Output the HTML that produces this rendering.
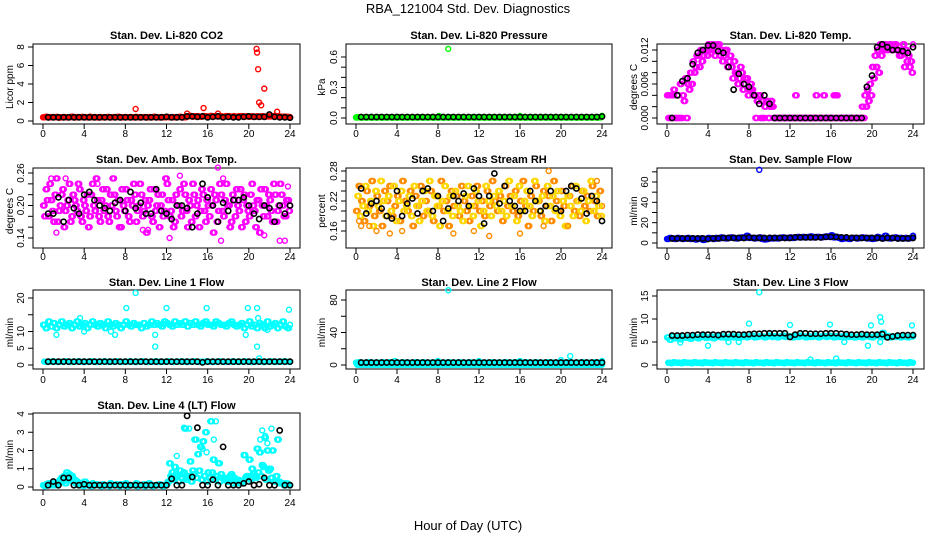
<!DOCTYPE html>
<html><head><meta charset="utf-8"><style>
body{margin:0;background:#fff}
svg{display:block;font-family:"Liberation Sans",Arial,sans-serif}
</style></head><body>
<svg id="chart" width="936" height="540" viewBox="0 0 936 540">
<rect width="936" height="540" fill="#fff"/>
<text x="468" y="13" font-size="13" text-anchor="middle">RBA_121004  Std. Dev. Diagnostics</text>
<text x="468" y="530" font-size="13" text-anchor="middle">Hour of Day (UTC)</text>
</svg>
<script>
// ---- data ----
const xTicks=[0,4,8,12,16,20,24];
const co2Base=[0.4,0.45,0.38,0.42,0.4,0.44,0.37,0.41,0.43,0.39,0.4,0.46,0.38,0.42,0.4,0.44,0.41,0.39,0.45,0.4,0.42,0.38,0.43,0.4,0.41,0.44,0.39,0.42,0.4,0.45,0.38,0.41,0.43,0.4,0.42,0.39,0.44,0.4,0.41,0.43,0.38,0.42,0.4,0.45,0.41,0.39,0.42,0.4,0.44,0.41,0.43,0.4,0.42,0.45,0.39,0.41,0.5,0.55,0.48,0.52,0.5,0.47,0.53,0.5,0.48,0.55,0.5,0.52,0.49,0.5,0.47,0.53,0.5,0.48,0.51,0.46,0.5,0.52,0.48,0.5,0.47,0.5,0.45,0.5,0.48,0.52,0.47,0.5,0.49,0.53,0.55,0.5,0.48,0.45,0.47,0.44,0.42];
const co2OutX=[9.0,15.6,14.0,17.0,20.75,20.8,20.9,21.0,21.2,21.5,22.75];
const co2OutY=[1.3,1.4,0.8,0.8,7.8,7.4,5.6,2.0,1.7,3.5,1.0];
const co2Black=[0.4,0.4,0.4,0.4,0.4,0.4,0.4,0.4,0.4,0.4,0.4,0.4,0.4,0.4,0.4,0.4,0.4,0.4,0.4,0.4,0.4,0.4,0.4,0.45,0.4,0.4,0.4,0.5,0.5,0.45,0.5,0.4,0.45,0.5,0.4,0.45,0.4,0.4,0.45,0.5,0.45,0.45,0.45,0.7,0.45,0.4,0.4,0.35];
const presBase=[0.005,0.008,0.004,0.006,0.005,0.007,0.004,0.006,0.005,0.008,0.004,0.006,0.005,0.007,0.004,0.006,0.005,0.008,0.004,0.006,0.005,0.007,0.004,0.006,0.005,0.008,0.004,0.006,0.005,0.007,0.004,0.006,0.005,0.008,0.004,0.006,0.005,0.007,0.004,0.006,0.005,0.008,0.004,0.006,0.005,0.007,0.004,0.006,0.005,0.008,0.004,0.006,0.005,0.007,0.004,0.006,0.005,0.008,0.004,0.006,0.005,0.007,0.004,0.006,0.005,0.008,0.004,0.006,0.005,0.007,0.004,0.006,0.005,0.008,0.004,0.006,0.005,0.007,0.004,0.006,0.005,0.008,0.004,0.006,0.005,0.007,0.004,0.006,0.005,0.008,0.004,0.006,0.005,0.007,0.004,0.006,0.02];
const presOutX=[0.1,9.0,8.1,16.0,24.0];
const presOutY=[0.01,0.68,0.02,0.02,0.02];
const presBlack=[0.01,0.01,0.01,0.01,0.01,0.01,0.01,0.01,0.01,0.01,0.01,0.01,0.01,0.01,0.01,0.01,0.01,0.01,0.01,0.01,0.01,0.01,0.01,0.01,0.01,0.01,0.01,0.01,0.01,0.01,0.01,0.01,0.01,0.01,0.01,0.01,0.01,0.01,0.01,0.01,0.01,0.01,0.01,0.01,0.01,0.01,0.01,0.015];
const tempA=[0.004,0.004,0.004,0,0.004,0.006,0.004,0.007,0.006,0.008,0.01,0.009,0.011,0.012,0.011,0.012,0.013,0.013,0.013,0.012,0.013,0.012,0.011,0.012,0.01,0.009,0.01,0.008,0.007,0.008,0.006,0.007,0.005,0.005,0.004,0.003,0.004,0.003,0.002,0.003,0.002,0.002,0,0,0,0,0,0,0,0,0.004,0,0,0,0,0,0,0,0.004,0,0,0.004,0,0,0,0.004,0.004,0,0,0,0,0,0,0,0,0,0.002,0.004,0.005,0.006,0.009,0.011,0.012,0.013,0.013,0.013,0.012,0.013,0.012,0.013,0.012,0.011,0.013,0.012,0.011,0.01,0.013];
const tempB=[0,0,0.005,0,0,0,0.003,0,0.005,0.006,0.008,0.011,0.009,0.01,0.012,0.011,0.012,0.012,0.011,0.013,0.011,0.01,0.012,0.009,0.011,0.007,0.008,0.006,0.009,0.005,0.007,0.004,0.006,0.004,0,0.004,0,0,0.003,0,0.003,0,0,0,0,0,0,0,0,0,0,0,0,0,0,0,0,0,0,0,0,0,0,0,0,0,0,0,0,0,0,0,0,0,0,0,0,0.002,0.003,0.004,0.007,0.009,0.008,0.011,0.012,0.012,0.013,0.012,0.013,0.012,0.011,0.012,0.009,0.01,0.009,0.008,0.012];
const tempBlack=[0,0.004,0.0065,0.007,0.0095,0.0115,0.012,0.0128,0.0128,0.0118,0.0115,0.009,0.005,0.0078,0.006,0.0055,0.004,0.0025,0.004,0.0025,0,0,0,0,0,0,0,0,0,0,0,0,0,0,0,0,0,0,0.0055,0.0075,0.0125,0.013,0.0125,0.012,0.012,0.0118,0.0115,0.0125];
const ambA=[0.2,0.23,0.18,0.21,0.17,0.25,0.19,0.22,0.16,0.2,0.24,0.18,0.21,0.19,0.23,0.17,0.2,0.22,0.18,0.24,0.19,0.21,0.17,0.23,0.2,0.18,0.22,0.25,0.19,0.21,0.16,0.2,0.23,0.18,0.21,0.24,0.17,0.2,0.22,0.19,0.15,0.21,0.18,0.23,0.2,0.16,0.22,0.19,0.24,0.18,0.21,0.17,0.2,0.23,0.19,0.22,0.16,0.2,0.24,0.18,0.21,0.19,0.22,0.17,0.2,0.23,0.15,0.21,0.19,0.22,0.18,0.24,0.2,0.17,0.21,0.23,0.19,0.16,0.22,0.2,0.18,0.24,0.19,0.21,0.15,0.2,0.23,0.18,0.21,0.17,0.22,0.19,0.24,0.2,0.18,0.21,0.2];
const ambB=[0.18,0.21,0.24,0.19,0.22,0.17,0.2,0.23,0.19,0.21,0.17,0.22,0.2,0.24,0.18,0.21,0.19,0.16,0.22,0.2,0.25,0.18,0.21,0.19,0.23,0.17,0.2,0.22,0.18,0.16,0.23,0.19,0.21,0.17,0.2,0.22,0.19,0.24,0.18,0.21,0.2,0.23,0.17,0.19,0.22,0.2,0.18,0.25,0.21,0.19,0.16,0.22,0.2,0.18,0.24,0.19,0.21,0.17,0.22,0.2,0.16,0.23,0.19,0.21,0.18,0.2,0.22,0.17,0.24,0.19,0.21,0.2,0.16,0.22,0.18,0.2,0.23,0.21,0.17,0.19,0.22,0.2,0.16,0.21,0.23,0.18,0.2,0.22,0.19,0.24,0.17,0.2,0.22,0.18,0.21,0.19,0.2];
const ambOutX=[0.8,1.3,2.2,5.3,9.7,10.2,12.3,13.3,14.5,17.0,17.3,17.5,21.5,23.0,23.5,23.8];
const ambOutY=[0.25,0.15,0.25,0.24,0.155,0.155,0.14,0.255,0.24,0.27,0.135,0.25,0.145,0.135,0.135,0.235];
const ambBlack=[0.185,0.185,0.215,0.17,0.21,0.195,0.185,0.22,0.225,0.21,0.2,0.195,0.19,0.205,0.21,0.19,0.225,0.195,0.205,0.185,0.185,0.23,0.19,0.185,0.175,0.2,0.2,0.195,0.16,0.185,0.24,0.215,0.2,0.17,0.205,0.19,0.21,0.21,0.215,0.2,0.185,0.175,0.2,0.195,0.17,0.2,0.185,0.2];
const rhA=[0.2,0.25,0.22,0.18,0.24,0.21,0.26,0.19,0.23,0.2,0.17,0.24,0.22,0.25,0.19,0.21,0.23,0.18,0.26,0.22,0.2,0.24,0.17,0.23,0.21,0.25,0.19,0.22,0.2,0.24,0.18,0.23,0.21,0.26,0.2,0.22,0.17,0.24,0.21,0.23,0.19,0.25,0.22,0.2,0.18,0.23,0.21,0.25,0.2,0.22,0.19,0.24,0.21,0.26,0.22,0.2,0.23,0.18,0.25,0.21,0.23,0.2,0.24,0.19,0.22,0.26,0.21,0.17,0.23,0.2,0.25,0.22,0.19,0.24,0.21,0.23,0.18,0.26,0.22,0.2,0.24,0.21,0.17,0.23,0.25,0.2,0.22,0.19,0.24,0.21,0.23,0.2,0.25,0.22,0.19,0.24,0.21];
const rhB=[0.23,0.19,0.21,0.25,0.2,0.22,0.17,0.24,0.21,0.26,0.22,0.19,0.23,0.2,0.25,0.18,0.22,0.24,0.2,0.21,0.23,0.19,0.25,0.21,0.18,0.22,0.24,0.2,0.26,0.19,0.23,0.21,0.17,0.22,0.25,0.2,0.23,0.19,0.24,0.21,0.2,0.18,0.23,0.25,0.21,0.19,0.24,0.22,0.17,0.2,0.25,0.22,0.19,0.23,0.21,0.24,0.2,0.22,0.19,0.26,0.21,0.23,0.18,0.25,0.2,0.22,0.24,0.21,0.19,0.26,0.22,0.2,0.23,0.18,0.25,0.21,0.23,0.2,0.24,0.19,0.22,0.17,0.23,0.21,0.19,0.25,0.22,0.2,0.24,0.18,0.22,0.26,0.2,0.23,0.21,0.19,0.22];
const rhOutX=[0.3,0.5,1.3,2.0,3.3,4.5,9.5,11.5,13.0,16.0,18.3,18.8,20.7,23.5];
const rhOutY=[0.18,0.17,0.17,0.16,0.155,0.16,0.155,0.16,0.15,0.155,0.17,0.28,0.17,0.26];
const rhBlack=[0.245,0.195,0.215,0.22,0.205,0.19,0.185,0.24,0.19,0.215,0.225,0.195,0.24,0.245,0.2,0.23,0.18,0.205,0.23,0.22,0.235,0.21,0.245,0.23,0.175,0.23,0.275,0.215,0.25,0.22,0.21,0.2,0.2,0.24,0.22,0.2,0.21,0.24,0.205,0.2,0.24,0.25,0.245,0.225,0.195,0.23,0.22,0.18];
const flowBase=[4,5,4.5,4,5,4.5,4,4.5,5,4,4.5,3.5,4,4.5,3,4,5,4.5,4,5,4.5,5.5,5,4.5,5,5.5,5,4.5,5,5.5,5,7,5,5,4.5,5,5.5,4,3.5,4,5,4.5,5,4.5,5,5.5,5,5,5.5,5,5.5,6,5.5,6,5.5,6,6.5,5.5,6,6,5.5,6,6.5,6,7.5,5.5,6,5,4,5,4.5,4,5,5,4.5,5,5.5,5,4.5,5,4,4.5,6,5,4.5,7,5,4.5,5,5.5,4.5,5,4.5,5,4.5,5,7];
const flowOutX=[9.0];
const flowOutY=[72];
const flowBlack=[4.5,4.5,4.5,4.5,4.5,4.5,4.5,4,4.5,4.5,5,5,5,5,5,5.5,5,5,5,5,5,5,5,5,5.5,5.5,5.5,5.5,5.5,5.5,6,6,6,5.5,5.5,5,5,5,5,5,5,4.5,5,5,4.5,4.5,4.5,5];
const l1A=[12,11,13,11.5,12.5,11,12,13,11.5,12,12.5,11,12,13,11.5,12,12.5,11,12,13,12,11.5,12.5,12,11,13,12,11.5,12.5,12,11,12,13,12,11.5,12.5,12,12,11,12.5,11.5,12,13,12,12.5,12,11.5,13,12.5,12,11.5,13,12,12.5,12,13,11.5,12.5,12,13,12,11.5,12.5,13,12,12,11.5,13,12.5,12,12,11.5,12.5,13,12,11.5,12,12.5,11,12,13,11.5,12,11,12.5,12,11,13,11.5,12,12.5,11,12,13,11.5,11,12];
const l1B=[1,0.9,1,1.1,1,0.9,1,1,1.1,1,0.9,1,1,1.1,1,0.9,1,1,1.1,1,0.9,1,1,1.1,1,0.9,1,1,1.1,1,0.9,1,1,1.1,1,0.9,1,1,1.1,1,0.9,1,1,1.1,1,0.9,1,1,1.1,1,0.9,1,1,1.1,1,0.9,1,1,1.1,1,0.9,1,1,1.1,1,0.9,1,1,1.1,1,0.9,1,1,1.1,1,0.9,1,1,1.1,1,0.9,1,1,1.1,1,0.9,1,1,1.1,1,0.9,1,1,1.1,1,0.9,1];
const l1OutX=[1.3,3.6,4.0,6.6,7.0,8.1,9.0,10.9,10.9,12.0,15.9,19.7,19.9,20.8,20.9,20.8,21.0,23.9,21.8];
const l1OutY=[9,14,10,10,9,17,21.5,5.5,9,17,17,9,17,17,14,5.5,2,16.5,10.5];
const l1Black=[1,1,1,1,1,1,1,1,1,1,1,1,1,1,1,1,1,1,1,1,1,1,1,1,1,1,1,1,1,1,0.8,1,1,1,1,1,1,1,1,1,1,1,1,1,1,1,1,1];
const l2A=[3,3.5,3,2.5,3,3.5,3,3,2.5,3,3.5,3,3,3.5,3,2.5,3,3,3.5,3,3,2.5,3,3.5,3,3,3.5,3,2.5,3,3,3.5,3,3,2.5,3,3.5,3,3,3,3.5,3,2.5,3,3.5,3,3,3,3.5,3,2.5,3,3,3.5,3,3,2.5,3,3.5,3,3,3,3.5,3,2.5,3,3.5,3,3,3,3.5,3,2.5,3,3,3.5,3,3,2.5,3,3.5,3,3,3.5,3,2.5,3,3,3.5,3,3,2.5,3,3.5,3,3,3.5];
const l2B=[0.3,0.2,0.4,0.3,0.2,0.3,0.4,0.3,0.2,0.3,0.3,0.2,0.4,0.3,0.2,0.3,0.4,0.3,0.2,0.3,0.3,0.2,0.4,0.3,0.2,0.3,0.4,0.3,0.2,0.3,0.3,0.2,0.4,0.3,0.2,0.3,0.4,0.3,0.2,0.3,0.3,0.2,0.4,0.3,0.2,0.3,0.4,0.3,0.2,0.3,0.3,0.2,0.4,0.3,0.2,0.3,0.4,0.3,0.2,0.3,0.3,0.2,0.4,0.3,0.2,0.3,0.4,0.3,0.2,0.3,0.3,0.2,0.4,0.3,0.2,0.3,0.4,0.3,0.2,0.3,0.3,0.2,0.4,0.3,0.2,0.3,0.4,0.3,0.2,0.3,0.3,0.2,0.4,0.3,0.2,0.3,0.4];
const l2OutX=[9.0,20.9,8.0,12.0,16.0,24.0,3.8,20.0];
const l2OutY=[92,11,5,5,5,5,5,6];
const l2Black=[3,3,3,3,3,3,3,3,3,3,3,3,3,3,3,3,3,3,3,3,3,3,3,3,3,3,3,3,3,3,3,3,3,3,3,3,3,3,3,3,3,3,3,3,3,3,3,3];
const l3A=[6,5.5,6.2,5.8,6,5.6,6.3,5.9,6,5.7,6.2,6,5.8,6.1,6.3,5.9,6,6.2,5.8,6.1,6.4,6,6.2,5.9,6.1,6.3,6,6.2,5.9,6.1,6.3,6,6.2,6.4,6,6.1,6.3,6.2,6,6.2,6.4,6.1,6.3,6,6.2,6.4,6.1,6.3,6.2,6,6.3,6.1,6.4,6.2,6,6.3,6.1,6.2,6.4,6,6.2,6.3,6.1,6.4,6.2,6,6.3,6.1,6.2,6,6.3,6.1,6.2,6,6.1,6.3,6,6.2,6.4,6.1,6,6.3,6.5,6.2,7,6.1,6.3,6,6.2,6.1,6.3,6,6.2,6.1,6,6.3,6.2];
const l3B=[0.5,0.4,0.6,0.5,0.5,0.4,0.6,0.5,0.5,0.4,0.6,0.5,0.5,0.4,0.6,0.5,0.5,0.4,0.6,0.5,0.5,0.4,0.6,0.5,0.5,0.4,0.6,0.5,0.5,0.4,0.6,0.5,0.5,0.4,0.6,0.5,0.5,0.4,0.6,0.5,0.5,0.4,0.6,0.5,0.5,0.4,0.6,0.5,0.5,0.4,0.6,0.5,0.5,0.4,0.6,0.5,0.5,0.4,0.6,0.5,0.5,0.4,0.6,0.5,0.5,0.4,0.6,0.5,0.5,0.4,0.6,0.5,0.5,0.4,0.6,0.5,0.5,0.4,0.6,0.5,0.5,0.4,0.6,0.5,0.5,0.4,0.6,0.5,0.5,0.4,0.6,0.5,0.5,0.4,0.6,0.5,0.5];
const l3OutX=[9.0,8.0,12.0,15.9,19.9,20.8,20.9,23.9,4.0,1.3,6.0,7.0,19.6,17.3,14.0,16.5,20.8];
const l3OutY=[15.8,9,8.7,8.8,8.6,10.4,9.4,8.6,4.2,4.9,5,5,4.2,5,1.2,1.4,5];
const l3Black=[6.4,6.4,6.4,6.5,6.5,6.6,6.6,6.6,6.6,6.5,6.7,6.7,6.7,6.6,6.6,6.7,6.8,6.8,6.9,6.9,6.9,6.9,6.9,6.1,6.6,6.9,6.9,6.8,6.8,6.8,6.9,6.9,6.9,6.8,6.7,6.6,6.6,6.7,6.6,6.6,6.6,6.7,6,6.2,6.4,6.5,6.5,6.5];
const l4A=[0.1,0.15,0.2,0.1,0.1,0.15,0.3,0.5,0.6,0.8,0.7,0.6,0.4,0.3,0.2,0.2,0.3,0.1,0.1,0.2,0.1,0.1,0.1,0.15,0.1,0.1,0.2,0.1,0.1,0.1,0.15,0.1,0.2,0.1,0.1,0.1,0.2,0.1,0.1,0.15,0.1,0.2,0.1,0.1,0.1,0.15,0.1,0.1,0.2,1.3,0.8,1.1,0.6,0.9,0.7,3.2,0.5,1.4,0.9,2.6,1.8,2.2,2.5,3.0,0.8,3.6,1.5,0.6,1.3,0.7,0.5,0.4,0.3,0.7,0.5,0.4,0.2,0.3,1.75,0.6,1.5,1.0,0.6,2.1,1.9,1.2,2.7,2.0,1.0,2.0,0.3,2.6,0.2,0.2,0.1,0.15,0.1];
const l4B=[0.05,0.1,0.1,0.2,0.1,0.2,0.4,0.3,0.2,0.5,0.4,0.3,0.2,0.1,0.1,0.05,0.1,0.1,0.05,0.1,0.15,0.1,0.05,0.1,0.1,0.05,0.1,0.1,0.15,0.05,0.1,0.1,0.05,0.1,0.1,0.1,0.05,0.1,0.1,0.05,0.1,0.1,0.05,0.1,0.1,0.1,0.05,0.1,0.3,0.6,0.4,0.7,0.3,0.5,0.8,0.4,0.6,0.3,0.7,0.5,0.9,0.4,0.6,0.3,0.5,0.8,0.4,0.6,0.3,0.5,0.4,0.3,0.6,0.2,0.3,0.4,0.2,0.3,0.5,0.6,0.4,0.7,0.5,0.8,0.6,1.1,0.4,0.9,0.5,0.3,0.6,0.3,0.2,0.1,0.2,0.1,0.1];
const l4OutX=[13.7,14.2,15.5,15.9,16.6,16.8,17.2,21.1,21.3,21.6,21.8,22.2,22.8,14.7,13.0,20.0,19.5];
const l4OutY=[3.25,3.2,2.1,1.9,2.6,3.6,1.3,2.6,3.1,2.8,2.4,3.2,2.6,2.6,1.7,1.5,1.75];
const l4Black=[0.1,0.3,0.1,0.5,0.5,0.1,0.1,0.15,0.1,0.1,0.1,0.1,0.1,0.1,0.1,0.1,0.1,0.1,0.1,0.1,0.1,0.1,0.1,0.1,0.45,0.1,0.1,3.9,0.55,3.25,0.1,0.1,0.4,0.1,2.2,0.1,0.1,0.1,0.2,0.3,0.1,0.15,0.5,0.1,0.1,3.1,0.1,0.1];

// ---- layout ----
const cols=[{l:33,r:300,x0:43,x24:290,yl:10},{l:346,r:612,x0:356,x24:602,yl:322},{l:657,r:924,x0:667,x24:913,yl:634}];
const rows=[{t:44,b:124,title:35,xl:137},{t:168,b:248,title:159,xl:260},{t:290,b:369,title:282,xl:383},{t:413,b:490,title:405,xl:506}];
const panels=[
 {id:'co2',title:'Stan. Dev. Li-820 CO2',yl:'Licor ppm',c:0,r:0,ticks:[0,2,4,6,8],labs:['0','2','4','6','8'],ref:[0,121,8,47],col:['#ff0000'],base:[co2Base],ox:co2OutX,oy:co2OutY,blk:co2Black},
 {id:'pressure',title:'Stan. Dev. Li-820 Pressure',yl:'kPa',c:1,r:0,ticks:[0,0.1,0.2,0.3,0.4,0.5,0.6],labs:['0.0','','','0.3','','','0.6'],ref:[0,118,0.6,57],col:['#00ff00'],base:[presBase],ox:presOutX,oy:presOutY,blk:presBlack},
 {id:'li820-temp',title:'Stan. Dev. Li-820 Temp.',yl:'degrees C',c:2,r:0,ticks:[0,0.002,0.004,0.006,0.008,0.01,0.012],labs:['0.000','','','0.006','','','0.012'],ref:[0,118,0.012,50],col:['#ff00ff','#ff00ff'],base:[tempA,tempB],ox:[],oy:[],blk:tempBlack},
 {id:'amb-temp',title:'Stan. Dev. Amb. Box Temp.',yl:'degrees C',c:0,r:1,ticks:[0.14,0.16,0.18,0.2,0.22,0.24,0.26],labs:['0.14','','','0.20','','','0.26'],ref:[0.14,238,0.26,173],col:['#ff00ff','#ff00ff'],base:[ambA,ambB],ox:ambOutX,oy:ambOutY,blk:ambBlack},
 {id:'rh',title:'Stan. Dev. Gas Stream RH',yl:'percent',c:1,r:1,ticks:[0.16,0.18,0.2,0.22,0.24,0.26,0.28],labs:['0.16','','','0.22','','','0.28'],ref:[0.16,231,0.28,171],col:['#ff8c00','#ffd700'],base:[rhA,rhB],ox:rhOutX,oy:rhOutY,blk:rhBlack},
 {id:'sample-flow',title:'Stan. Dev. Sample Flow',yl:'ml/min',c:2,r:1,ticks:[0,10,20,30,40,50,60,70],labs:['0','','20','','40','','60',''],ref:[0,243,60,182],col:['#0000ff'],base:[flowBase],ox:flowOutX,oy:flowOutY,blk:flowBlack},
 {id:'line1',title:'Stan. Dev. Line 1 Flow',yl:'ml/min',c:0,r:2,ticks:[0,5,10,15,20],labs:['0','5','10','','20'],ref:[0,365,20,298],col:['#00ffff','#00ffff'],base:[l1A,l1B],ox:l1OutX,oy:l1OutY,blk:l1Black},
 {id:'line2',title:'Stan. Dev. Line 2 Flow',yl:'ml/min',c:1,r:2,ticks:[0,20,40,60,80],labs:['0','','40','','80'],ref:[0,365,80,300],col:['#00ffff','#00ffff'],base:[l2A,l2B],ox:l2OutX,oy:l2OutY,blk:l2Black},
 {id:'line3',title:'Stan. Dev. Line 3 Flow',yl:'ml/min',c:2,r:2,ticks:[0,5,10,15],labs:['0','5','10','15'],ref:[0,365,15,296],col:['#00ffff','#00ffff'],base:[l3A,l3B],ox:l3OutX,oy:l3OutY,blk:l3Black},
 {id:'line4',title:'Stan. Dev. Line 4 (LT) Flow',yl:'ml/min',c:0,r:3,ticks:[0,1,2,3,4],labs:['0','1','2','3','4'],ref:[0,487,4,414],col:['#00ffff','#00ffff'],base:[l4A,l4B],ox:l4OutX,oy:l4OutY,blk:l4Black}
];
const jitter=[0,0.08,0.16];
const NS='http://www.w3.org/2000/svg';
const svg=document.getElementById('chart');
function mk(tag,attrs,parent){const e=document.createElementNS(NS,tag);for(const k in attrs)e.setAttribute(k,attrs[k]);parent.appendChild(e);return e;}
panels.forEach(p=>{
 const C=cols[p.c],R=rows[p.r];
 const g=mk('g',{},svg);
 
 
 const xs=v=>C.x0+(C.x24-C.x0)*v/24;
 const ys=v=>p.ref[1]+(p.ref[3]-p.ref[1])*(v-p.ref[0])/(p.ref[2]-p.ref[0]);
 const t=mk('text',{x:(C.l+C.r)/2,y:R.title+4,'font-size':11,'font-weight':'bold','text-anchor':'middle'},g);
 t.textContent=p.title;
 
 
 const yl=mk('text',{x:C.yl,y:(R.t+R.b)/2,'font-size':10,'text-anchor':'middle',transform:`rotate(-90 ${C.yl+3} ${(R.t+R.b)/2})`},g);
 yl.textContent=p.yl;
 
 
 const ax=mk('g',{stroke:'#000','stroke-width':1},g);
 
 
 mk('rect',{x:C.l,y:R.t,width:C.r-C.l,height:R.b-R.t,fill:'none'},ax);
 mk('line',{x1:xs(0),x2:xs(24),y1:R.b,y2:R.b},ax);
 xTicks.forEach(v=>{
  mk('line',{x1:xs(v),x2:xs(v),y1:R.b,y2:R.b+5},ax);
  const tl=mk('text',{x:xs(v),y:R.xl,'font-size':10,'text-anchor':'middle',stroke:'none'},g);
  tl.textContent=String(v);
  
  
 });
 const yt=p.ticks;
 mk('line',{x1:C.l,x2:C.l,y1:ys(yt[0]),y2:ys(yt[yt.length-1])},ax);
 yt.forEach((v,i)=>{
  const y=ys(v);
  mk('line',{x1:C.l-5,x2:C.l,y1:y,y2:y},ax);
  if(p.labs[i]){
   const lx=C.l-9;
   const tl=mk('text',{x:lx,y:y,'font-size':10,'text-anchor':'middle',transform:`rotate(-90 ${lx} ${y})`},g);
   tl.textContent=p.labs[i];
   
   
  }
 });
 const pts=mk('g',{fill:'none','stroke-width':1.4},g);
 
 
 p.base.forEach((arr,si)=>{
  arr.forEach((v,i)=>{
   jitter.forEach(j=>{
    const x=24*i/(arr.length-1)+(si===1?0.12:0)+j;
    if(x>24.1) return;
    const c=mk('circle',{cx:xs(Math.min(x,24)),cy:ys(v),r:2.5,stroke:p.col[si]},pts);
    
    
   });
  });
 });
 p.ox.forEach((x,i)=>{
  const c=mk('circle',{cx:xs(x),cy:ys(p.oy[i]),r:2.5,stroke:p.col[0]},pts);
  
  
 });
 const bk=mk('g',{fill:'none',stroke:'#000','stroke-width':1.6},g);
 
 
 p.blk.forEach((v,i)=>{
  const x=0.5+23.5*i/(p.blk.length-1);
  const c=mk('circle',{cx:xs(x),cy:ys(v),r:2.6},bk);
  
  
 });
});
</script>
</body></html>
